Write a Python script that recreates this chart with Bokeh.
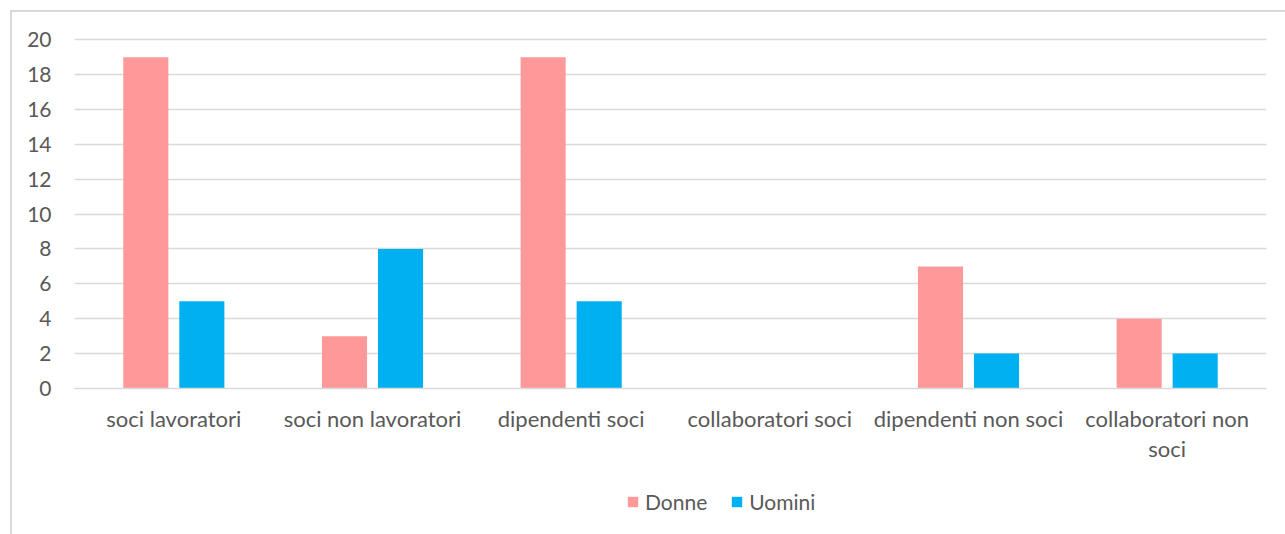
from bokeh.plotting import figure
from bokeh.layouts import column
from bokeh.models import (ColumnDataSource, Range1d, Legend, LegendItem,
                          LinearAxis, FixedTicker)
from bokeh.transform import dodge
from bokeh.embed import file_html
from bokeh.resources import INLINE

# Data
categories = ["soci lavoratori", "soci non lavoratori", "dipendenti soci",
              "collaboratori soci", "dipendenti non soci", "collaboratori non soci"]
donne = [19, 3, 19, 0, 7, 4]
uomini = [5, 8, 5, 0, 2, 2]
y_ticks = [0, 2, 4, 6, 8, 10, 12, 14, 16, 18, 20]
series_names = ["Donne", "Uomini"]
# category labels as drawn, the long last one wrapped onto two lines
label_line1 = ["soci lavoratori", "soci non lavoratori", "dipendenti soci",
               "collaboratori soci", "dipendenti non soci", "collaboratori non"]
label_line2 = ["", "", "", "", "", "soci"]

FONT = "Lato"
TICK_SIZE = "21px"
LABEL_SIZE = "22px"
TEXT_COLOR = "#595959"
GRID_COLOR = "#d9d9d9"
PINK = "#FF9999"
BLUE = "#00B0F0"
TOTAL_W = 1275

# each category occupies one unit of the x range, centred on i + 0.5
n = len(categories)
centers = [i + 0.5 for i in range(n)]
source = ColumnDataSource(data=dict(cat=categories, pos=centers, donne=donne, uomini=uomini))
bar_w = 0.227


def add_bars(fig):
    rd = fig.vbar(x=dodge("pos", -0.141), top="donne", width=bar_w,
                  source=source, fill_color=PINK, line_color=None)
    ru = fig.vbar(x=dodge("pos", 0.141), top="uomini", width=bar_w,
                  source=source, fill_color=BLUE, line_color=None)
    return rd, ru


p = figure(
    x_range=Range1d(0, n),
    y_range=Range1d(0, 20.3),
    frame_width=1192, frame_height=354,
    min_border_left=62, min_border_right=TOTAL_W - 62 - 1192,
    min_border_top=22, min_border_bottom=0,
    x_axis_location=None,
    output_backend="svg", toolbar_location=None,
)
p.outline_line_color = None
p.background_fill_color = "white"
p.border_fill_color = "white"

add_bars(p)

# y axis
p.yaxis.ticker = y_ticks
p.yaxis.axis_line_color = None
p.yaxis.major_tick_line_color = None
p.yaxis.minor_tick_line_color = None
p.yaxis.major_label_standoff = 17
p.yaxis.major_label_text_font = FONT
p.yaxis.major_label_text_font_size = TICK_SIZE
p.yaxis.major_label_text_color = TEXT_COLOR


def label_axis(lines, standoff, line_color):
    ax = LinearAxis(
        ticker=FixedTicker(ticks=centers),
        axis_line_color=line_color, axis_line_width=1.5,
        major_tick_line_color=None, minor_tick_line_color=None,
        major_label_standoff=standoff, major_label_text_font=FONT,
        major_label_text_font_size=LABEL_SIZE, major_label_text_color=TEXT_COLOR,
        major_label_overrides={c: (t if t else " ") for c, t in zip(centers, lines)},
    )
    p.add_layout(ax, "below")
    return ax


label_axis(label_line1, 10, GRID_COLOR)
label_axis(label_line2, -6, None)

p.xgrid.grid_line_color = None
p.ygrid.grid_line_color = GRID_COLOR
p.ygrid.grid_line_width = 1.5

# legend strip under the chart; its bars sit outside the strip's visible range
leg = figure(
    width=TOTAL_W, height=100,
    x_range=Range1d(0, n), y_range=Range1d(100, 200),
    min_border=0, x_axis_location=None, y_axis_location=None,
    output_backend="svg", toolbar_location=None,
)
leg.outline_line_color = None
leg.background_fill_color = "white"
leg.border_fill_color = "white"
leg.grid.visible = False
r_d, r_u = add_bars(leg)

legend = Legend(
    items=[LegendItem(label=series_names[0], renderers=[r_d]),
           LegendItem(label=series_names[1], renderers=[r_u])],
    orientation="horizontal", location=(552, 50),
    label_text_font=FONT, label_text_font_size=TICK_SIZE, label_text_color=TEXT_COLOR,
    glyph_width=13, glyph_height=13, spacing=23, label_standoff=6,
    border_line_color=None, background_fill_alpha=0, margin=0, padding=5,
)
leg.add_layout(legend)

layout = column(p, leg, spacing=0)
layout.margin = (10, 0, 0, 10)
layout.styles = {"border-left": f"2px solid {GRID_COLOR}",
                 "border-top": f"2px solid {GRID_COLOR}",
                 "background-color": "white"}

open("out.html", "w").write(file_html(layout, INLINE))
